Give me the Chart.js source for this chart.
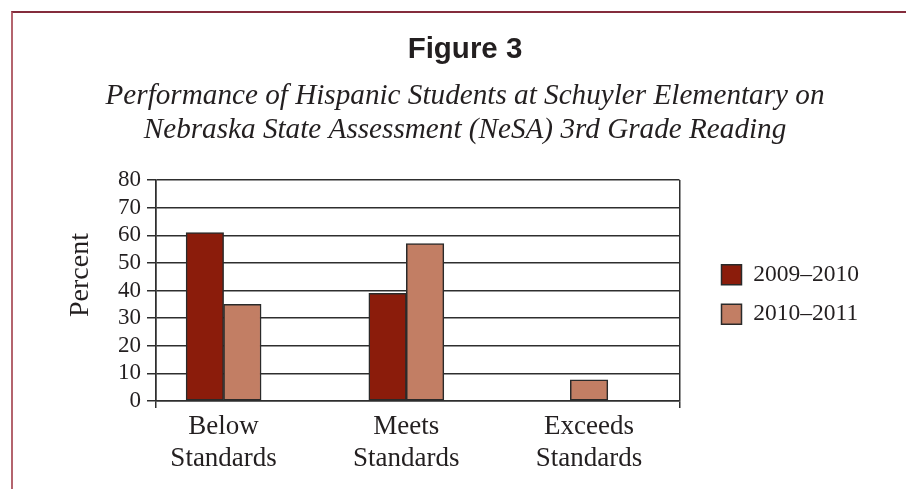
<!DOCTYPE html>
<html><head><meta charset="utf-8">
<script src="https://cdn.jsdelivr.net/npm/chart.js@4.4.1/dist/chart.umd.min.js"></script>
<style>
html,body{margin:0;padding:0;background:#fff;}
#wrap{position:relative;width:906px;height:489px;overflow:hidden;background:#fff;}
#frame{position:absolute;left:11px;top:11px;width:920px;height:500px;border-top:2px solid #842c3c;border-left:2px solid #b4646e;box-sizing:border-box;}
canvas{position:absolute;left:0;top:0;}
</style></head><body>
<div id="wrap"><div id="frame"></div><canvas id="c" width="906" height="489"></canvas></div>
<script>
// ---- data ----
const categories = [['Below', 'Standards'], ['Meets', 'Standards'], ['Exceeds', 'Standards']];
const seriesNames = ['2009–2010', '2010–2011'];
const values2009 = [61, 39, null];
const values2010 = [35, 57, 7.7];
const yTickMin = 0, yTickMax = 80, yTickStep = 10;
const titleText = 'Figure 3';
const subtitleLines = ['Performance of Hispanic Students at Schuyler Elementary on', 'Nebraska State Assessment (NeSA) 3rd Grade Reading'];
const yAxisTitle = 'Percent';

// ---- styling / layout ----
const INK = '#231f20';
const GRID = '#2e2e2e';
const SERIF = '"Liberation Serif", "Times New Roman", serif';
const colors = ['#8b1c0b', '#c27e64'];
const PADL = 87, PADR = 63;
const Y_TITLE_SIZE = 28, Y_TITLE_LH = 1.2;

const toPoints = vals => vals.map((v, i) => ({x: i, y: v}));

const legendShift = {
  id: 'legendShift',
  afterLayout(chart) {
    const lg = chart.legend;
    if (!lg) return;
    const dx = 26, dy = 4;
    lg.left += dx; lg.right += dx;
    lg.top += dy; lg.bottom += dy;
  }
};

new Chart(document.getElementById('c'), {
  type: 'bar',
  data: {
    datasets: [
      {label: seriesNames[0], data: toPoints(values2009), backgroundColor: colors[0], borderColor: '#2a2a2a', borderWidth: 1.5, borderSkipped: false, skipNull: true, barThickness: 37.5},
      {label: seriesNames[1], data: toPoints(values2010), backgroundColor: colors[1], borderColor: '#2a2a2a', borderWidth: 1.5, borderSkipped: false, skipNull: true, barThickness: 37.5}
    ]
  },
  options: {
    responsive: false,
    animation: false,
    devicePixelRatio: 1,
    layout: {padding: {left: PADL, right: PADR, top: 0, bottom: 0}},
    plugins: {
      title: {
        display: true, text: titleText, color: INK,
        font: {family: '"Liberation Sans", Arial, sans-serif', size: 29.5, weight: 'bold', lineHeight: 1.2},
        padding: {top: 32, bottom: 0}
      },
      subtitle: {
        display: true, text: subtitleLines, color: INK,
        font: {family: SERIF, size: 29.2, style: 'italic', lineHeight: 34 / 29.2},
        padding: {top: 12.4, bottom: 32.2}
      },
      legend: {
        display: true, position: 'right', align: 'center', fullSize: false,
        labels: {
          boxWidth: 20, boxHeight: 20, padding: 16, color: INK,
          font: {family: SERIF, size: 23.5}
        }
      },
      tooltip: {enabled: false}
    },
    scales: {
      x: {
        type: 'linear',
        offset: false,
        min: -0.37, max: 2.495,
        afterBuildTicks: s => {
          s.ticks = [s.min, ...categories.map((_, i) => i), s.max].map(v => ({value: v}));
        },
        ticks: {
          autoSkip: false, maxRotation: 0, minRotation: 0, padding: 3, color: INK,
          font: {family: SERIF, size: 27, lineHeight: 32 / 27},
          callback: v => {
            const i = Math.round(v);
            return (Math.abs(v - i) < 1e-6 && categories[i]) ? categories[i] : '';
          }
        },
        grid: {
          offset: false,
          color: c => (c.index === 0 || c.index === categories.length + 1) ? GRID : 'rgba(0,0,0,0)',
          lineWidth: 1.5, tickLength: 7, drawOnChartArea: true
        },
        border: {display: true, color: GRID, width: 1.5},
        afterFit: s => { s.height = 88; }
      },
      y: {
        min: yTickMin, max: yTickMax,
        ticks: {stepSize: yTickStep, autoSkip: false, padding: 6, color: INK, font: {family: SERIF, size: 23}},
        grid: {color: GRID, lineWidth: 1.5, tickLength: 9},
        border: {display: true, color: GRID, width: 1.5},
        title: {
          display: true, text: yAxisTitle, color: INK,
          font: {family: SERIF, size: Y_TITLE_SIZE, lineHeight: Y_TITLE_LH},
          padding: {top: 0, bottom: 0}
        },
        afterFit: s => {
          s.width = 156 - PADL;
          if (!s._titleShifted) {
            const orig = s.drawTitle.bind(s);
            const tx = 81 - (PADL + Y_TITLE_SIZE * Y_TITLE_LH / 2);
            const ty = -15.5;
            s.drawTitle = function () {
              const ctx = this.ctx;
              ctx.save(); ctx.translate(tx, ty); orig(); ctx.restore();
            };
            s._titleShifted = true;
          }
        }
      }
    }
  },
  plugins: [legendShift]
});
</script>
</body></html>
